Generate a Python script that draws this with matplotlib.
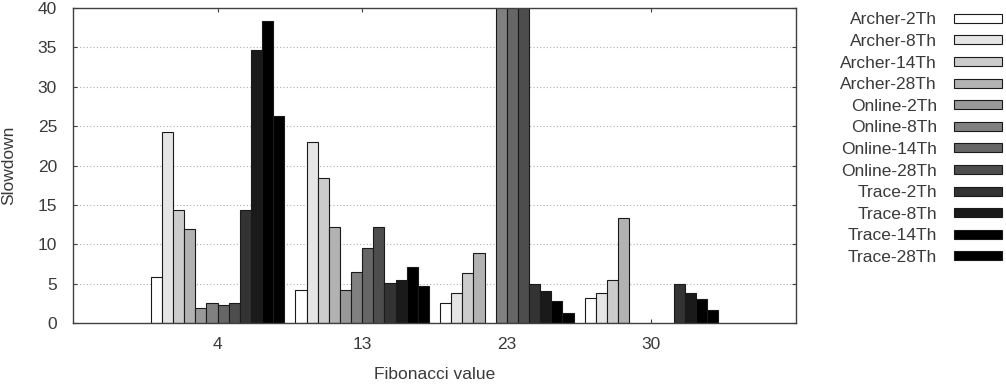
import numpy as np
import matplotlib
matplotlib.use("Agg")
import matplotlib.pyplot as plt

plt.rcParams['font.family'] = ['Liberation Sans', 'DejaVu Sans']

# ---- data ----
groups = ["4", "13", "23", "30"]
series = ["Archer-2Th", "Archer-8Th", "Archer-14Th", "Archer-28Th",
          "Online-2Th", "Online-8Th", "Online-14Th", "Online-28Th",
          "Trace-2Th", "Trace-8Th", "Trace-14Th", "Trace-28Th"]
nan = np.nan
archer_2 = [5.9, 4.2, 2.5, 3.2]
archer_8 = [24.3, 23.0, 3.8, 3.85]
archer_14 = [14.3, 18.4, 6.3, 5.4]
archer_28 = [12.0, 12.2, 8.9, 13.3]
online_2 = [1.9, 4.2, nan, nan]
online_8 = [2.6, 6.5, 45.0, nan]
online_14 = [2.3, 9.5, 45.0, nan]
online_28 = [2.5, 12.2, 45.0, nan]
trace_2 = [14.4, 5.1, 4.9, 5.0]
trace_8 = [34.7, 5.5, 4.1, 3.85]
trace_14 = [38.3, 7.1, 2.8, 3.1]
trace_28 = [26.3, 4.7, 1.3, 1.6]
values = [archer_2, archer_8, archer_14, archer_28,
          online_2, online_8, online_14, online_28,
          trace_2, trace_8, trace_14, trace_28]
colors = ['#ffffff', '#e5e5e5', '#cccccc', '#b2b2b2', '#999999', '#808080',
          '#666666', '#4d4d4d', '#333333', '#1a1a1a', '#000000', '#000000']
yticks = [0, 5, 10, 15, 20, 25, 30, 35, 40]

# ---- figure ----
fig = plt.figure(figsize=(10.06, 3.84), dpi=100)
ax = fig.add_axes([73/1006, 1-323/384, (796-73)/1006, (323-8)/384])

x = np.arange(len(groups))
n = len(series)
w = 1.0 / (n + 1)
for i, (name, vals, c) in enumerate(zip(series, values, colors)):
    off = (i - (n - 1) / 2) * w
    ax.bar(x + off, vals, width=w, color=c, edgecolor='#1a1a1a',
           linewidth=0.8, label=name, zorder=2)

ax.set_xlim(-1, 4)
ax.set_ylim(0, 40)
ax.set_xticks(x)
ax.set_xticklabels(groups)
ax.set_yticks(yticks)
ax.set_yticklabels([str(t) for t in yticks])

tc = '#404040'
for s in ax.spines.values():
    s.set_color(tc)
    s.set_linewidth(1.0)
ax.tick_params(axis='both', direction='in', length=3, width=0.8, color=tc,
               labelcolor='#3a3a3a', labelsize=12.5, top=True, right=True)
ax.tick_params(axis='y', pad=11.5)
ax.tick_params(axis='x', pad=10)

ax.yaxis.grid(True, linestyle=(0, (1, 2)), color='#b0b0b0', linewidth=0.8, zorder=0)
ax.set_axisbelow(True)

ax.set_xlabel("Fibonacci value", fontsize=12.5, color='#3a3a3a', labelpad=11)
ax.set_ylabel("Slowdown", fontsize=12.5, color='#3a3a3a')
ax.yaxis.set_label_coords(-0.079, 0.5)

leg = ax.legend(loc='upper right', bbox_to_anchor=(1002/1006, 1-12.5/384),
                bbox_transform=fig.transFigure, frameon=False,
                markerfirst=False, handlelength=2.76, handleheight=0.42,
                handletextpad=0.98, labelspacing=0.38, borderpad=0,
                borderaxespad=0, fontsize=12.5)
for t in leg.get_texts():
    t.set_color('#3a3a3a')

fig.savefig("out.png", dpi=100)
